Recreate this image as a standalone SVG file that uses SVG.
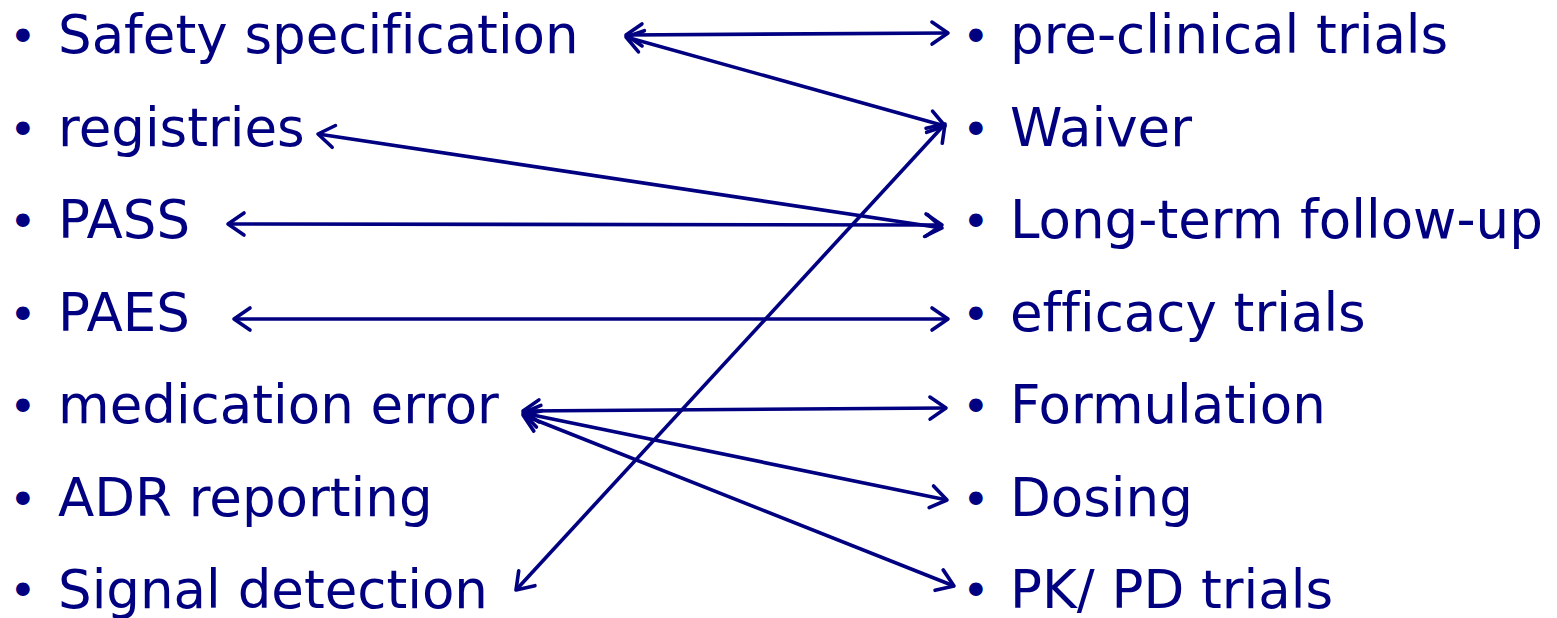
<svg xmlns="http://www.w3.org/2000/svg" width="1557" height="618" viewBox="0 0 1557 618">
<style>
text{font-family:"DejaVu Sans",Verdana,sans-serif;font-size:53px;fill:#000080;font-variant-ligatures:none}
text.b{font-size:47px}
.c line{stroke:#000080;stroke-width:3.6;marker-start:url(#ah);marker-end:url(#ah)}
</style>
<defs>
<marker id="ah" markerUnits="userSpaceOnUse" viewBox="-20 -14 22 28" refX="0" refY="0" markerWidth="22" markerHeight="28" orient="auto-start-reverse" overflow="visible">
<path d="M-16,-11 L0,0 L-16,11" fill="none" stroke="#000080" stroke-width="3.6" stroke-linecap="round" stroke-linejoin="round"/>
</marker>
</defs>
<rect width="1557" height="618" fill="#fff"/>
<g id="l1"><text class="b" x="9" y="53">•</text><text x="58" y="53">Safety specification</text></g>
<g id="l2"><text class="b" x="9" y="145.5">•</text><text x="58" y="145.5">registries</text></g>
<g id="l3"><text class="b" x="9" y="238">•</text><text x="58" y="238">PASS</text></g>
<g id="l4"><text class="b" x="9" y="330.5">•</text><text x="58" y="330.5">PAES</text></g>
<g id="l5"><text class="b" x="9" y="423">•</text><text x="58" y="423">medication error</text></g>
<g id="l6"><text class="b" x="9" y="515.5">•</text><text x="58" y="515.5">ADR reporting</text></g>
<g id="l7"><text class="b" x="9" y="607">•</text><text x="58" y="608">Signal detection</text></g>
<g id="r1"><text class="b" x="962" y="53">•</text><text x="1010" y="53">pre-clinical trials</text></g>
<g id="r2"><text class="b" x="962" y="145.5">•</text><text x="1010" y="145.5">Waiver</text></g>
<g id="r3"><text class="b" x="962" y="238">•</text><text x="1010" y="238">Long-term follow-up</text></g>
<g id="r4"><text class="b" x="962" y="330.5">•</text><text x="1010" y="330.5">efficacy trials</text></g>
<g id="r5"><text class="b" x="962" y="423">•</text><text x="1010" y="423">Formulation</text></g>
<g id="r6"><text class="b" x="962" y="515.5">•</text><text x="1010" y="515.5">Dosing</text></g>
<g id="r7"><text class="b" x="962" y="607">•</text><text x="1010" y="608">PK/ PD trials</text></g>
<g id="connectors" class="c">
<line x1="626" y1="35" x2="948" y2="33"/>
<line x1="626" y1="37" x2="945" y2="126"/>
<line x1="318" y1="134" x2="942" y2="228"/>
<line x1="228" y1="224" x2="942" y2="225"/>
<line x1="234" y1="319" x2="948" y2="319"/>
<line x1="523" y1="411" x2="946" y2="408"/>
<line x1="523" y1="413" x2="947" y2="500"/>
<line x1="523" y1="415" x2="954" y2="586"/>
<line x1="516" y1="590" x2="945" y2="124"/>
</g>
</svg>
